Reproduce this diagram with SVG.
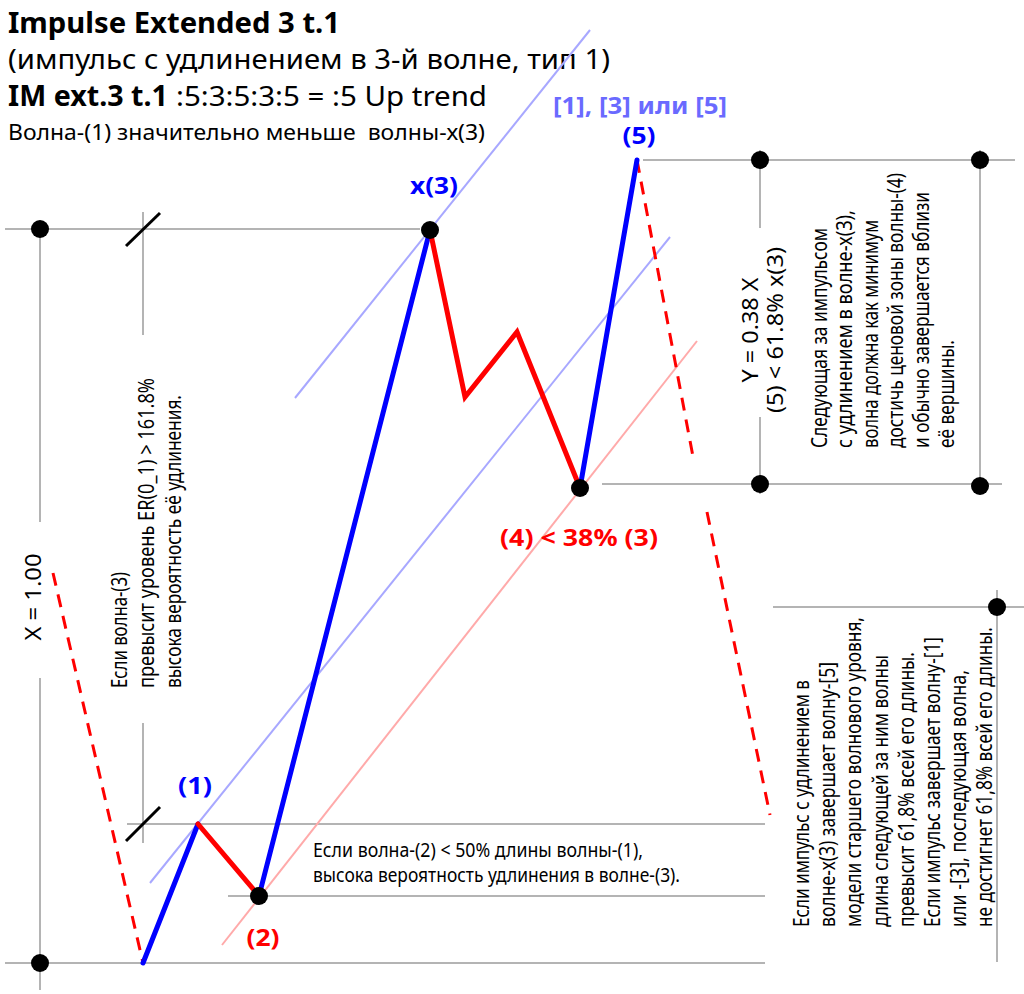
<svg xmlns="http://www.w3.org/2000/svg" width="1024" height="994" viewBox="0 0 1024 994">
<style>
.g{stroke:#b4b4b4;stroke-width:2;fill:none}
.tick{stroke:#000;stroke-width:3;fill:none}
.ch-b{stroke:#a8a8ff;stroke-width:2;fill:none}
.ch-r{stroke:#ffaaaa;stroke-width:2;fill:none}
.dash{stroke:#ff0000;stroke-width:3;stroke-dasharray:13 9;fill:none}
.wb{stroke:#0000ff;stroke-width:5;fill:none;stroke-linecap:round;stroke-linejoin:miter}
.wr{stroke:#ff0000;stroke-width:5;fill:none;stroke-linecap:round;stroke-linejoin:miter}
.dot{fill:#000}
.t{font-family:"Noto Sans","DejaVu Sans",sans-serif;fill:#000}
.tb{font-family:"Noto Sans","DejaVu Sans",sans-serif;font-weight:bold;fill:#000}
.lbl{font-family:"Noto Sans","DejaVu Sans",sans-serif;font-weight:bold;font-size:24px}
.blue{fill:#0000ff}
.red{fill:#ff0000}
.lblue{fill:#6a6aff}
.rt{font-family:"Noto Sans","DejaVu Sans",sans-serif;font-size:21px;fill:#000}
</style>

<g id="title">
<text class="tb" x="8" y="33" font-size="29" textLength="332" lengthAdjust="spacingAndGlyphs">Impulse Extended 3 t.1</text>
<text class="t" x="8" y="69" font-size="27" textLength="602" lengthAdjust="spacingAndGlyphs">(импульс с удлинением в 3-й волне, тип 1)</text>
<text class="tb" x="8" y="106" font-size="28" textLength="160" lengthAdjust="spacingAndGlyphs">IM ext.3 t.1</text>
<text class="t" x="176" y="106" font-size="28" textLength="311" lengthAdjust="spacingAndGlyphs">:5:3:5:3:5 = :5 Up trend</text>
<text class="t" x="8" y="140" font-size="21" textLength="477" lengthAdjust="spacingAndGlyphs">Волна-(1) значительно меньше&#160; волны-х(3)</text>
</g>

<g id="guides">
<line class="g" x1="5" y1="229" x2="420" y2="229"/>
<line class="g" x1="40" y1="229" x2="40" y2="522"/>
<line class="g" x1="40" y1="678" x2="40" y2="990"/>
<line class="g" x1="5" y1="963" x2="765" y2="963"/>
<line class="g" x1="143" y1="212" x2="143" y2="335"/>
<line class="g" x1="143" y1="723" x2="143" y2="843"/>
<line class="g" x1="127" y1="824" x2="765" y2="824"/>
<line class="g" x1="228" y1="896" x2="765" y2="896"/>
<line class="g" x1="643" y1="160" x2="1015" y2="160"/>
<line class="g" x1="760" y1="150" x2="760" y2="228"/>
<line class="g" x1="760" y1="417" x2="760" y2="494"/>
<line class="g" x1="980" y1="150" x2="980" y2="494"/>
<line class="g" x1="602" y1="484" x2="1002" y2="484"/>
<line class="g" x1="773" y1="607" x2="1024" y2="607"/>
<line class="g" x1="997" y1="590" x2="997" y2="962"/>
<line class="tick" x1="126" y1="246" x2="160" y2="213"/>
<line class="tick" x1="126" y1="841" x2="160" y2="807"/>
<line class="ch-b" x1="295" y1="398" x2="590" y2="30"/>
<line class="ch-b" x1="150" y1="883" x2="670" y2="237"/>
<line class="ch-r" x1="222" y1="945" x2="697" y2="341"/>
<line class="dash" x1="53" y1="573" x2="143" y2="963"/>
<line class="dash" x1="637" y1="160" x2="694" y2="462"/>
<line class="dash" x1="707" y1="512" x2="770" y2="815"/>
</g>

<g id="connectors">
<polyline class="wb" points="143,963 198,824"/>
<polyline class="wr" points="198,824 259,896"/>
<polyline class="wb" points="259,896 430,230"/>
<polyline class="wr" points="430,230 465,397 517,332 580,488"/>
<polyline class="wb" points="580,488 637,160"/>
</g>

<g id="node-0"><circle class="dot" cx="40" cy="963" r="9"/></g>
<g id="node-top-left"><circle class="dot" cx="40" cy="229" r="9"/></g>
<g id="node-1"><text class="lbl blue" x="195" y="794" text-anchor="middle" textLength="34" lengthAdjust="spacingAndGlyphs">(1)</text></g>
<g id="node-2"><circle class="dot" cx="259" cy="896" r="9"/><text class="lbl red" x="263" y="946" text-anchor="middle" textLength="33" lengthAdjust="spacingAndGlyphs">(2)</text></g>
<g id="node-3"><circle class="dot" cx="430" cy="230" r="9"/><text class="lbl blue" x="434" y="194" text-anchor="middle" textLength="48" lengthAdjust="spacingAndGlyphs">x(3)</text></g>
<g id="node-4"><circle class="dot" cx="580" cy="488" r="9"/><text class="lbl red" x="579" y="546" text-anchor="middle" textLength="158" lengthAdjust="spacingAndGlyphs">(4) &lt; 38% (3)</text></g>
<g id="node-5"><text class="lbl lblue" x="640" y="114" text-anchor="middle" textLength="174" lengthAdjust="spacingAndGlyphs">[1], [3] или [5]</text><text class="lbl blue" x="639" y="144" text-anchor="middle" textLength="33" lengthAdjust="spacingAndGlyphs">(5)</text></g>
<g id="node-y-box">
<circle class="dot" cx="760" cy="160" r="9"/><circle class="dot" cx="980" cy="160" r="9"/>
<circle class="dot" cx="760" cy="484" r="9"/><circle class="dot" cx="980" cy="486" r="9"/>
</g>
<g id="node-right"><circle class="dot" cx="997" cy="607" r="9"/></g>

<g id="texts">
<text class="t" font-size="22" transform="translate(41,597) rotate(-90)" text-anchor="middle" textLength="87" lengthAdjust="spacingAndGlyphs">X = 1.00</text>

<text class="rt" transform="translate(127,688) rotate(-90)" textLength="116" lengthAdjust="spacingAndGlyphs">Если волна-(3)</text>
<text class="rt" transform="translate(154,688) rotate(-90)" textLength="310" lengthAdjust="spacingAndGlyphs">превысит уровень ER(0_1) &gt; 161.8%</text>
<text class="rt" transform="translate(181,688) rotate(-90)" textLength="293" lengthAdjust="spacingAndGlyphs">высока вероятность её удлинения.</text>

<text class="t" font-size="22" transform="translate(758,330) rotate(-90)" text-anchor="middle" textLength="105" lengthAdjust="spacingAndGlyphs">Y = 0.38 X</text>
<text class="t" font-size="22" transform="translate(783,330) rotate(-90)" text-anchor="middle" textLength="166" lengthAdjust="spacingAndGlyphs">(5) &lt; 61.8% x(3)</text>

<text class="rt" transform="translate(827,448) rotate(-90)" textLength="220" lengthAdjust="spacingAndGlyphs">Следующая за импульсом</text>
<text class="rt" transform="translate(852,448) rotate(-90)" textLength="238" lengthAdjust="spacingAndGlyphs">с удлинением в волне-х(3),</text>
<text class="rt" transform="translate(878,448) rotate(-90)" textLength="228" lengthAdjust="spacingAndGlyphs">волна должна как минимум</text>
<text class="rt" transform="translate(903,448) rotate(-90)" textLength="275" lengthAdjust="spacingAndGlyphs">достичь ценовой зоны волны-(4)</text>
<text class="rt" transform="translate(929,448) rotate(-90)" textLength="256" lengthAdjust="spacingAndGlyphs">и обычно завершается вблизи</text>
<text class="rt" transform="translate(954,448) rotate(-90)" textLength="108" lengthAdjust="spacingAndGlyphs">её вершины.</text>

<text class="rt" transform="translate(809,927) rotate(-90)" textLength="247" lengthAdjust="spacingAndGlyphs">Если импульс с удлинением в</text>
<text class="rt" transform="translate(835,927) rotate(-90)" textLength="265" lengthAdjust="spacingAndGlyphs">волне-х(3) завершает волну-[5]</text>
<text class="rt" transform="translate(861,927) rotate(-90)" textLength="310" lengthAdjust="spacingAndGlyphs">модели старшего волнового уровня,</text>
<text class="rt" transform="translate(888,927) rotate(-90)" textLength="272" lengthAdjust="spacingAndGlyphs">длина следующей за ним волны</text>
<text class="rt" transform="translate(914,927) rotate(-90)" textLength="275" lengthAdjust="spacingAndGlyphs">превысит 61,8% всей его длины.</text>
<text class="rt" transform="translate(940,927) rotate(-90)" textLength="290" lengthAdjust="spacingAndGlyphs">Если импульс завершает волну-[1]</text>
<text class="rt" transform="translate(966,927) rotate(-90)" textLength="257" lengthAdjust="spacingAndGlyphs">или -[3], последующая волна,</text>
<text class="rt" transform="translate(992,927) rotate(-90)" textLength="300" lengthAdjust="spacingAndGlyphs">не достигнет 61,8% всей его длины.</text>

<text class="t" font-size="20" x="313" y="857" textLength="330" lengthAdjust="spacingAndGlyphs">Если волна-(2) &lt; 50% длины волны-(1),</text>
<text class="t" font-size="20" x="313" y="882" textLength="367" lengthAdjust="spacingAndGlyphs">высока вероятность удлинения в волне-(3).</text>
</g>
</svg>
